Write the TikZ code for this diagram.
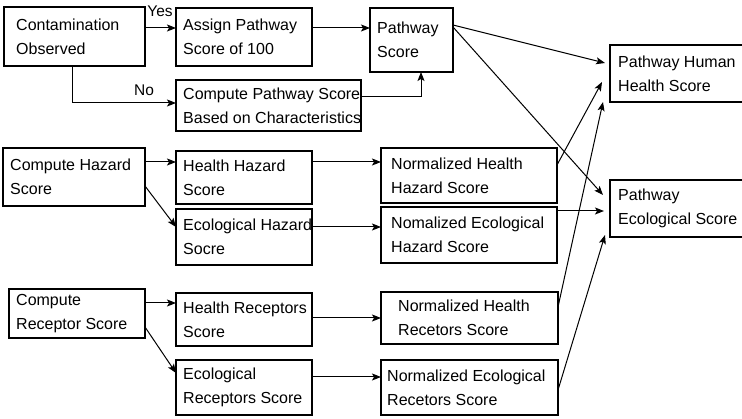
\documentclass[tikz,border=0pt]{standalone}
\usepackage{fontspec}
\setmainfont{Liberation Sans}
\usetikzlibrary{arrows.meta,calc}

% box from (x1,y1) to (x2,y2) in pixel units, text set flush left with an indent
\newcommand\placebox[7][7]{%
  \pgfmathsetmacro\bxWidth{#5-#3}%
  \pgfmathsetmacro\bxHeight{#6-#4}%
  \node[box, minimum width=\bxWidth pt, minimum height=\bxHeight pt] (#2) at (#3,#4) {};
  \node[boxtext] (#2-t) at ($(#2.west)+(#1,0)$) {#7};%
}

\begin{document}
\begin{tikzpicture}[x=1pt,y=-1pt,
  box/.style={draw, line width=1.2pt, rectangle, anchor=north west,
    inner sep=0pt, outer sep=0pt},
  boxtext/.style={anchor=west, align=left, inner sep=0pt,
    font=\fontsize{16}{24}\selectfont},
  link/.style={line width=1pt, -{Stealth[length=9pt,width=7pt,inset=2pt]}},
  lbl/.style={font=\fontsize{15.5}{18}\selectfont, inner sep=0pt}]
\useasboundingbox (0,0) rectangle (742,419);

% pathway branch
\placebox[12]{cont}{4}{7}{145}{66}{Contamination\\Observed}
\placebox{assign}{176}{8}{312}{66}{Assign Pathway\\Score of 100}
\placebox{cpath}{176}{80}{361}{131}{Compute Pathway Score\\Based on Characteristics}
\placebox{pscore}{370}{8}{453}{72}{Pathway\\Score}

% final scores (right edges run past the page)
\placebox[8]{human}{610}{45}{752}{102}{Pathway Human\\Health Score}
\placebox[8]{eco}{610}{180}{752}{237}{Pathway\\Ecological Score}

% hazard branch
\placebox{hazard}{3}{148}{145}{206}{Compute Hazard\\Score}
\placebox{hhs}{176}{151}{312}{204}{Health Hazard\\Score}
\placebox{ehs}{176}{209}{312}{265}{Ecological Hazard\\Socre}
\placebox[10]{nhhs}{381}{148}{557}{203}{Normalized Health\\Hazard Score}
\placebox[10]{nehs}{381}{207}{557}{263}{Nomalized Ecological\\Hazard Score}

% receptor branch
\placebox{receptor}{9}{289}{145}{338}{Compute\\Receptor Score}
\placebox{hrs}{176}{293}{312}{346}{Health Receptors\\Score}
\placebox{ers}{176}{360}{312}{415}{Ecological\\Receptors Score}
\placebox[17]{nhrs}{381}{292}{558}{344}{Normalized Health\\Recetors Score}
\placebox[6]{ners}{381}{360}{558}{415}{Normalized Ecological\\Recetors Score}

% pathway connectors
\draw[link] (cont.east |- 0,28) -- (assign.west |- 0,28);
\node[lbl] (yes) at (160,11) {Yes};
\draw[link] (cont.south -| 72,0) |- (cpath.west |- 0,103);
\node[lbl] (no) at (144,90) {No};
\draw[link] (assign.east |- 0,28) -- (pscore.west |- 0,28);
\draw[link] (cpath.east |- 0,97) -| (pscore.south -| 421,0);
\draw[link] (pscore.east |- 0,25) -- ($(human.west |- 0,63)+(-5,0)$);
\draw[link] (pscore.east |- 0,27) -- ($(eco.west |- 0,195)+(-7,0)$);

% hazard connectors
\draw[link] (hazard.east |- 0,162) -- (hhs.west |- 0,162);
\draw[link] (hazard.east |- 0,186) -- (ehs.west |- 0,227);
\draw[link] (hhs.east |- 0,162) -- (nhhs.west |- 0,162);
\draw[link] (ehs.east |- 0,227) -- (nehs.west |- 0,227);
\draw[link] (nhhs.east |- 0,165) -- ($(human.west |- 0,82)+(-8,0)$);
\draw[link] (nehs.east |- 0,211) -- ($(eco.west |- 0,211)+(-6,0)$);

% receptor connectors
\draw[link] (receptor.east |- 0,303) -- (hrs.west |- 0,303);
\draw[link] (receptor.east |- 0,327) -- (ers.west |- 0,373);
\draw[link] (hrs.east |- 0,318) -- (nhrs.west |- 0,318);
\draw[link] (ers.east |- 0,377) -- (ners.west |- 0,377);
\draw[link] (nhrs.east |- 0,307) -- ($(human.west |- 0,102)+(-7,0)$);
\draw[link] (ners.east |- 0,390) -- ($(eco.west |- 0,235)+(-5,0)$);
\end{tikzpicture}
\end{document}
